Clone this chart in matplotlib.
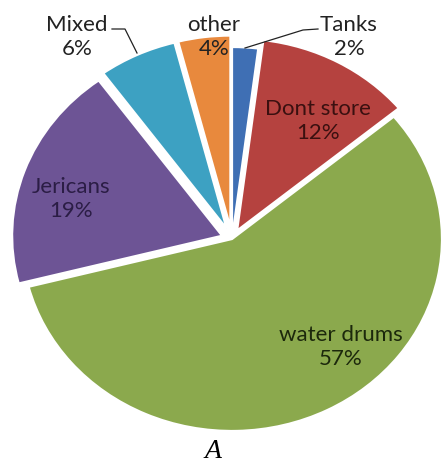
import matplotlib.pyplot as plt

labels = ['Tanks', 'Dont store', 'water drums', 'Jericans', 'Mixed', 'other']
shares = [2, 12, 57, 19, 6, 4]
colors = ['#3F6FB4', '#B5423F', '#8BA94D', '#6D5495', '#3DA1C2', '#E8893D']
explode = [0.0, 0.05, 0.0, 0.05, 0.06, 0.06]
text_colors = ['#222222', '#3A1010', '#1C280C', '#2B1D45', '#222222', '#222222']

W, H = 442, 467
cx, cy = 232, 239        # pie centre, pixels from top-left
rx, ry = 210, 192        # pie is drawn slightly wider than tall

fig = plt.figure(figsize=(W / 100, H / 100), dpi=100)
ax = fig.add_axes([0, 0, 1, 1])

ax.pie(shares, colors=colors, explode=explode, startangle=90, counterclock=False,
       radius=1.0, wedgeprops=dict(edgecolor='white', linewidth=1.6))

# pie() resets limits and aspect, so fix them afterwards
ax.set_aspect('auto')
ax.set_xlim(-cx / rx, (W - cx) / rx)
ax.set_ylim(-(H - cy) / ry, cy / ry)
ax.axis('off')


def px(x, y):
    # pixel position -> pie data coordinates
    return (x - cx) / rx, (cy - y) / ry


text_pos = {
    'Tanks': (349, 37),
    'Dont store': (318, 121),
    'water drums': (341, 347),
    'Jericans': (71, 199),
    'Mixed': (77, 37),
    'other': (214, 37),
}
for name, val, tc in zip(labels, shares, text_colors):
    x, y = px(*text_pos[name])
    ax.text(x, y, '%s\n%d%%' % (name, val), family='Lato', fontsize=16, color=tc,
            ha='center', va='center', linespacing=1.2)

# leader lines for the labels sitting outside the pie
ax.plot(*zip(px(112, 29), px(125, 29), px(137, 53)), color='#222222', lw=0.9)
ax.plot(*zip(px(318, 29), px(303, 30), px(245, 48)), color='#222222', lw=0.9)

x, y = px(213, 452)
ax.text(x, y, 'A', family='Liberation Serif', style='italic', fontsize=20,
        ha='center', va='center', color='black')

fig.savefig('out.png', dpi=100)
